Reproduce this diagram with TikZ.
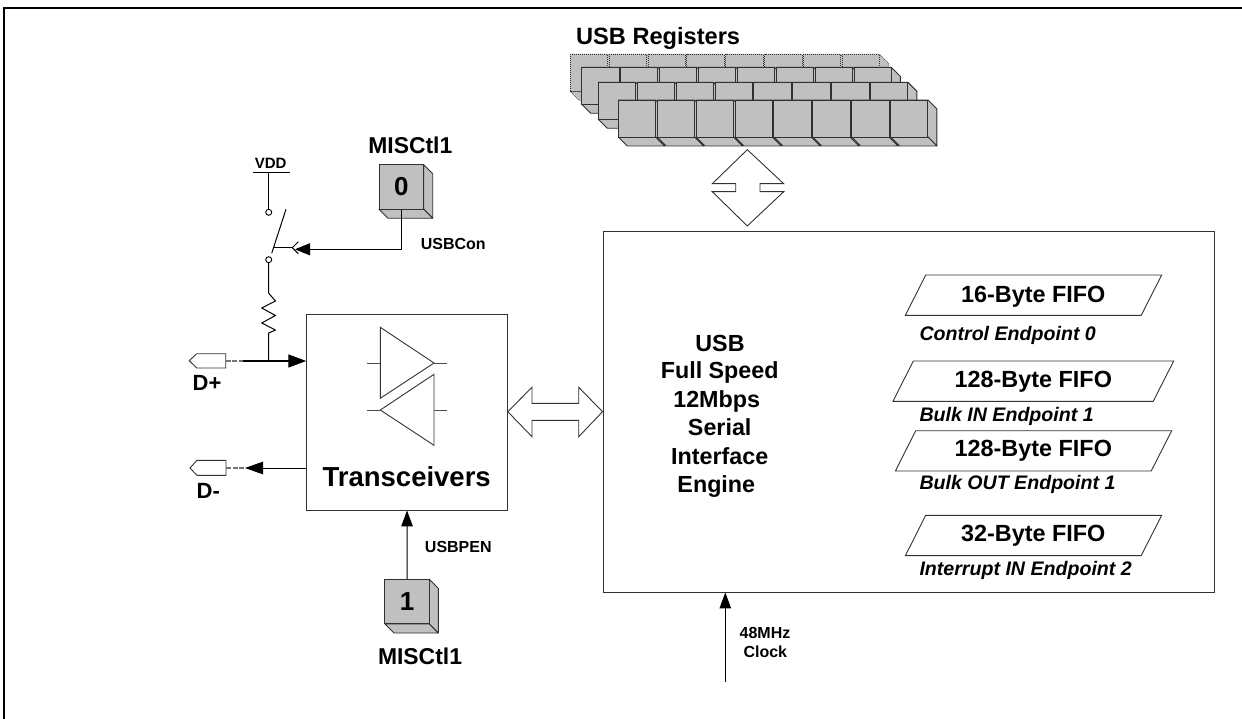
\documentclass[tikz,border=0pt]{standalone}
\usepackage{fontspec}
\setmainfont{Liberation Sans}
\usetikzlibrary{arrows.meta,calc}
\newcommand{\fsz}[1]{\fontsize{#1}{#1}\selectfont\bfseries}
\definecolor{cubegray}{HTML}{C0C0C0}
\definecolor{cubeline}{HTML}{303030}
\tikzset{
  lbl/.style={anchor=base,inner sep=0pt,text=black},
  wire/.style={draw=black,line width=1pt},
  flow/.style={draw=black,line width=1pt,-{Triangle[length=16pt,width=11.5pt]},shorten >=0pt},
  outline/.style={draw=black!80,line width=.9pt,fill=white,line join=miter},
  blockbox/.style={draw=black!80,line width=.9pt,fill=white,rectangle,inner sep=0pt},
  cubeface/.style={draw=cubeline,line width=.9pt,fill=cubegray,line join=round},
  cubedot/.style={draw=cubeline,line width=.6pt,dash pattern=on 1pt off 1pt,fill=cubegray,line join=round},
  frontface/.style={rectangle,draw=cubeline,line width=.9pt,fill=cubegray,inner sep=0pt,minimum width=44.5pt,minimum height=44.5pt}
}
% #1 style, #2 x, #3 y (top-left of front), #4 w, #5 h
\newcommand{\cubecell}[5]{%
  \draw[#1] (#2,#3) -- ++(#4,0) -- ++(9,9) -- ++(0,#5) -- ++(-9,-9) -- cycle;
  \draw[#1] (#2,#3+#5) -- ++(#4,0) -- ++(9,9) -- ++(-#4,0) -- cycle;
  \draw[#1] (#2,#3) rectangle ++(#4,#5);
}
\newcommand{\cellrow}[3]{%
  \foreach \k in {0,...,7}{\cubecell{#1}{#2+38.9*\k}{#3}{37.3}{37}}%
}
\newcommand{\fifo}[4]{% x-offsets: top-left top-right, y top
  \draw[outline] (#1,#3) -- (#2,#3) -- (#2-20.5,#3+40.3) -- (#1-20.3,#3+40.3) -- cycle;
}
\begin{document}
\begin{tikzpicture}[x=1pt,y=-1pt]
\useasboundingbox (0,0) rectangle (1242,719);
% page frame
\draw[black,line width=2.4pt] (4,719) -- (4,8) -- (1242,8);
% USB registers
\cellrow{cubedot}{570}{54.3}
\cellrow{cubeface}{581.7}{67.3}
\cellrow{cubeface}{598.3}{82.3}
\cellrow{cubeface}{618.3}{100}
\node[lbl,anchor=base west] (reg) at (576,44.3) {\fsz{23.6}USB Registers};
% vertical double arrow
\draw[outline] (747.3,149.7) -- (783.7,183.7) -- (760,183.7) -- (760,191.7) -- (783.7,191.7)
  -- (747.3,226) -- (712.3,191.7) -- (735.7,191.7) -- (735.7,183.7) -- (712.3,183.7) -- cycle;
% main blocks
\node[blockbox,minimum width=611pt,minimum height=361pt] (sie) at (908.5,411.5) {};
\node[blockbox,minimum width=200.6pt,minimum height=196pt] (trans) at (407,412) {};
% horizontal double arrow
\draw[outline] (trans.east |- 0,411.7) -- (532,387.3) -- (532,403.3) -- (578.7,403.3) -- (578.7,387.3)
  -- (sie.west |- 0,411.7) -- (578.7,436.7) -- (578.7,420.3) -- (532,420.3) -- (532,436.7) -- cycle;
% buffers
\draw[outline] (380.3,327.3) -- (434,363) -- (380.3,398.3) -- cycle;
\draw[outline] (434,374.3) -- (380.3,410) -- (434,445.3) -- cycle;
\draw[draw=black!70,line width=.9pt] (367,363) -- (380.3,363) (434,363) -- (447,363)
  (367,410) -- (380.3,410) (434,410) -- (447,410);
\node[lbl] (tlabel) at (406.7,486.7) {\fsz{27.5}Transceivers};
% SIE text
\node[lbl] (s1) at (720,351) {\fsz{23.3}USB};
\node[lbl] (s2) at (719.7,378.7) {\fsz{23.3}Full Speed};
\node[lbl] (s3) at (716.7,407.7) {\fsz{23.3}12Mbps};
\node[lbl] (s4) at (719.7,435.7) {\fsz{23.3}Serial};
\node[lbl] (s5) at (719.7,464.7) {\fsz{23.3}Interface};
\node[lbl] (s6) at (716.3,492.7) {\fsz{23.3}Engine};
% FIFOs
\fifo{925.7}{1161.7}{275}{}
\fifo{913.3}{1173.7}{361}{}
\fifo{915.7}{1171.7}{430.7}{}
\fifo{925.7}{1161.7}{515.3}{}
\node[lbl] (f1) at (1033.3,302.7) {\fsz{23.4}16-Byte FIFO};
\node[lbl] (f2) at (1033.3,387.3) {\fsz{23.4}128-Byte FIFO};
\node[lbl] (f3) at (1033.3,456) {\fsz{23.4}128-Byte FIFO};
\node[lbl] (f4) at (1033.3,541.7) {\fsz{23.4}32-Byte FIFO};
\node[lbl,anchor=base west] (e1) at (919.3,340) {\fsz{19.6}\itshape Control Endpoint 0};
\node[lbl,anchor=base west] (e2) at (919.3,421.7) {\fsz{19.6}\itshape Bulk IN Endpoint 1};
\node[lbl,anchor=base west] (e3) at (919.3,489.3) {\fsz{19.6}\itshape Bulk OUT Endpoint 1};
\node[lbl,anchor=base west] (e4) at (919.3,575.7) {\fsz{19.6}\itshape Interrupt IN Endpoint 2};
% clock
\coordinate (clk) at (725.3,682);
\draw[flow] (clk) -- (clk |- sie.south);
\node[lbl] (c1) at (765,638.3) {\fsz{16}48MHz};
\node[lbl] (c2) at (765.3,657.3) {\fsz{16}Clock};
% MISCtl1 block 0
\draw[cubeface] (423.7,164.7) -- ++(9,9) -- ++(0,44.6) -- ++(-9,-9) -- cycle;
\draw[cubeface] (379,209.3) -- ++(44.7,0) -- ++(9,9) -- ++(-44.7,0) -- cycle;
\node[frontface] (bz) at (401.35,187) {\fsz{26}0};
\node[lbl] (m0) at (410.3,154) {\fsz{22.9}MISCtl1};
\node[lbl] (ucon) at (453.3,250) {\fsz{16}USBCon};
% MISCtl1 block 1
\draw[cubeface] (429.3,579.3) -- ++(9,9) -- ++(0,44.7) -- ++(-9,-9) -- cycle;
\draw[cubeface] (385,624) -- ++(44.3,0) -- ++(9,9) -- ++(-44.3,0) -- cycle;
\node[frontface] (bo) at (407.15,601.65) {\fsz{26}1};
\node[lbl] (m1) at (420,664) {\fsz{22.9}MISCtl1};
\node[lbl] (upen) at (458.3,552.7) {\fsz{16}USBPEN};
\draw[flow] (bo.north) -- (trans.south);
% switch
\node[lbl] (vdd) at (270.7,169) {\fsz{15}VDD};
\coordinate (vbar) at (268.7,172.7);
\draw[wire] (253.3,172.7) -- (289.7,172.7);
\node[circle,draw=black,line width=.9pt,fill=white,inner sep=0pt,minimum size=6pt] (sa) at (268.7,212.3) {};
\node[circle,draw=black,line width=.9pt,fill=white,inner sep=0pt,minimum size=6pt] (sb) at (268.7,259.7) {};
\draw[wire] (vbar) -- (sa);
\draw[wire] (286,209.3) -- (271.7,253.3);
\coordinate (sw) at (273.5,247.7);
\coordinate (chev) at (292.3,247.7);
\draw[wire] (sw) -- (chev);
\draw[wire] (298.3,241.7) -- (chev) -- (298.3,253.7);
\draw[wire,-{Triangle[length=15pt,width=12pt]}] (bz.south) |- (295,249.3);
% resistor and D+
\coordinate (dpj) at (268.7,361);
\draw[wire,line join=round] (sb) -- (268.7,293.3) -- (275.5,301) -- (261.7,308) -- (275.5,315.5) -- (261.7,323) -- (275.5,330) -- (268.7,333) -- (dpj);
\draw[outline,line width=.9pt] (225.7,353.7) -- (196.7,353.7) -- (189.3,360.7) -- (196.7,368) -- (225.7,368) -- cycle;
\coordinate (dp) at (225.7,361);
\coordinate (dps) at (243,361);
\draw[black!55,line width=1.2pt,dash pattern=on 5pt off 1.5pt] (dp) -- (dps);
\draw[draw=black,line width=1.4pt,-{Triangle[length=18pt,width=13pt]}] (dps) -- (trans.west |- dp);
\node[lbl] (dpl) at (207,390) {\fsz{22}D+};
% D-
\draw[outline,line width=.9pt] (226,460.3) -- (197,460.3) -- (190,468) -- (197,475.3) -- (226,475.3) -- cycle;
\coordinate (dm) at (226,468);
\coordinate (dmt) at (245,468);
\draw[black!55,line width=1.2pt,dash pattern=on 5pt off 1.5pt] (dm) -- (dmt);
\draw[wire,-{Triangle[length=18pt,width=12.5pt]}] (trans.west |- dm) -- (dmt);
\node[lbl] (dml) at (208.3,498) {\fsz{22}D-};
\end{tikzpicture}
\end{document}
